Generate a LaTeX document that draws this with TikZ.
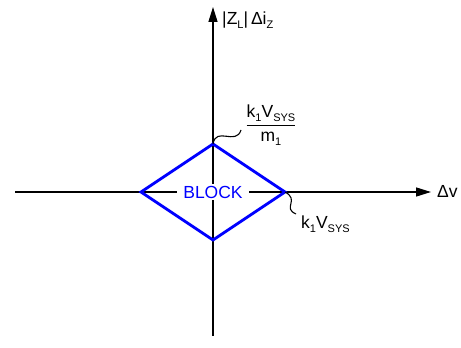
\documentclass[tikz,border=0pt]{standalone}
\usepackage{fontspec}
\setmainfont{Liberation Sans}
\usetikzlibrary{arrows.meta,positioning,calc}

\newcommand{\lowsub}[1]{\raisebox{-0.22em}{\fontsize{11}{12}\selectfont #1}}

\begin{document}
\begin{tikzpicture}[
    x=1pt, y=1pt,
    axis/.style={line width=1.4pt, -{Triangle[length=15pt,width=9pt]}},
    region/.style={draw=blue, line width=2.8pt, line join=miter},
    lbl/.style={font=\fontsize{17.5}{20}\selectfont, inner sep=0pt},
    tag/.style={line width=1.1pt},
]
\useasboundingbox (0,0) rectangle (461,348);

% --- Axes ---
\coordinate (o)  at (213,156);
\coordinate (xl) at (15,156);
\coordinate (xr) at (431,156);
\coordinate (yb) at (213,12);
\coordinate (yt) at (213,341);
\draw[axis] (xl) -- (xr);
\draw[axis] (yb) -- (yt);

\node[lbl, anchor=base west] (xlab) at (437,150) {Δv};
\node[lbl, anchor=base west] (ylab) at (222,323) {|Z\lowsub{L}|\,Δi\lowsub{Z}};

% --- Diamond region ---
\coordinate (dl) at (141,156);
\coordinate (dr) at (285,156);
\coordinate (dt) at (213,204);
\coordinate (db) at (213,108);
\draw[region] (dl) -- (dt) -- (dr) -- (db) -- cycle;
\node[lbl, text=blue, fill=white, inner xsep=6pt, inner ysep=2pt] (block) at (o) {BLOCK};

% --- Limit labels ---
\node[lbl, anchor=base] (ylim) at (271,218) {$\displaystyle{\mbox{k\lowsub{1}V\lowsub{SYS}} \above 1.2pt \mbox{m\lowsub{1}}}$};
\node[lbl, anchor=base west] (xlim) at (301,119) {k\lowsub{1}V\lowsub{SYS}};

\coordinate (tt) at (241,218);
\coordinate (rt) at (296,134);
\draw[tag] (dt) .. controls (216,222) and (236,202) .. (tt);
\draw[tag] (dr) .. controls (300,148) and (282,140) .. (rt);

\end{tikzpicture}
\end{document}
